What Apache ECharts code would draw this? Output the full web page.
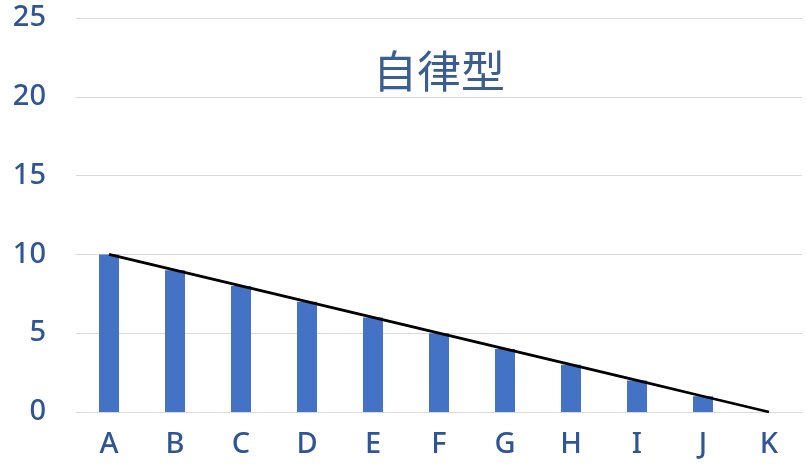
<!DOCTYPE html>
<html><head><meta charset="utf-8">
<script src="https://cdn.jsdelivr.net/npm/echarts@6/dist/echarts.min.js"></script>
<style>html,body{margin:0;padding:0;background:#fff}#c{width:807px;height:476px}</style>
</head><body><div id="c"></div>
<script>
const categories = ['A','B','C','D','E','F','G','H','I','J','K'];
const barValues = [10,9,8,7,6,5,4,3,2,1,0];
const lineValues = [10,9,8,7,6,5,4,3,2,1,0];
const yTicks = {min:0, max:25, interval:5};
const titleText = '自律型';

const chart = echarts.init(document.getElementById('c'), null, {renderer:'canvas'});
chart.setOption({
  animation:false,
  backgroundColor:'#fff',
  title:{text:titleText, left:434, top:44, textAlign:'center',
    textStyle:{fontFamily:'Noto Sans CJK JP', fontSize:44, fontWeight:'normal', color:'#3B5E91'}},
  grid:{left:76, right:5, top:18, bottom:64, containLabel:false},
  xAxis:{type:'category', data:categories,
    axisLine:{lineStyle:{color:'#d9d9d9', width:1}}, axisTick:{show:false},
    axisLabel:{fontFamily:'Noto Sans', fontSize:29, fontWeight:500, color:'#2F5597', margin:18}},
  yAxis:{type:'value', min:yTicks.min, max:yTicks.max, interval:yTicks.interval,
    axisLine:{show:false}, axisTick:{show:false},
    splitLine:{lineStyle:{color:'#d9d9d9', width:1}},
    axisLabel:{fontFamily:'Noto Sans', fontSize:29, fontWeight:500, color:'#2F5597', margin:30}},
  series:[
    {type:'bar', data:barValues, barWidth:20, itemStyle:{color:'#4472C4'}},
    {type:'line', data:lineValues, symbol:'none', lineStyle:{color:'#000', width:2.8}, z:5}
  ]
});
</script></body></html>
